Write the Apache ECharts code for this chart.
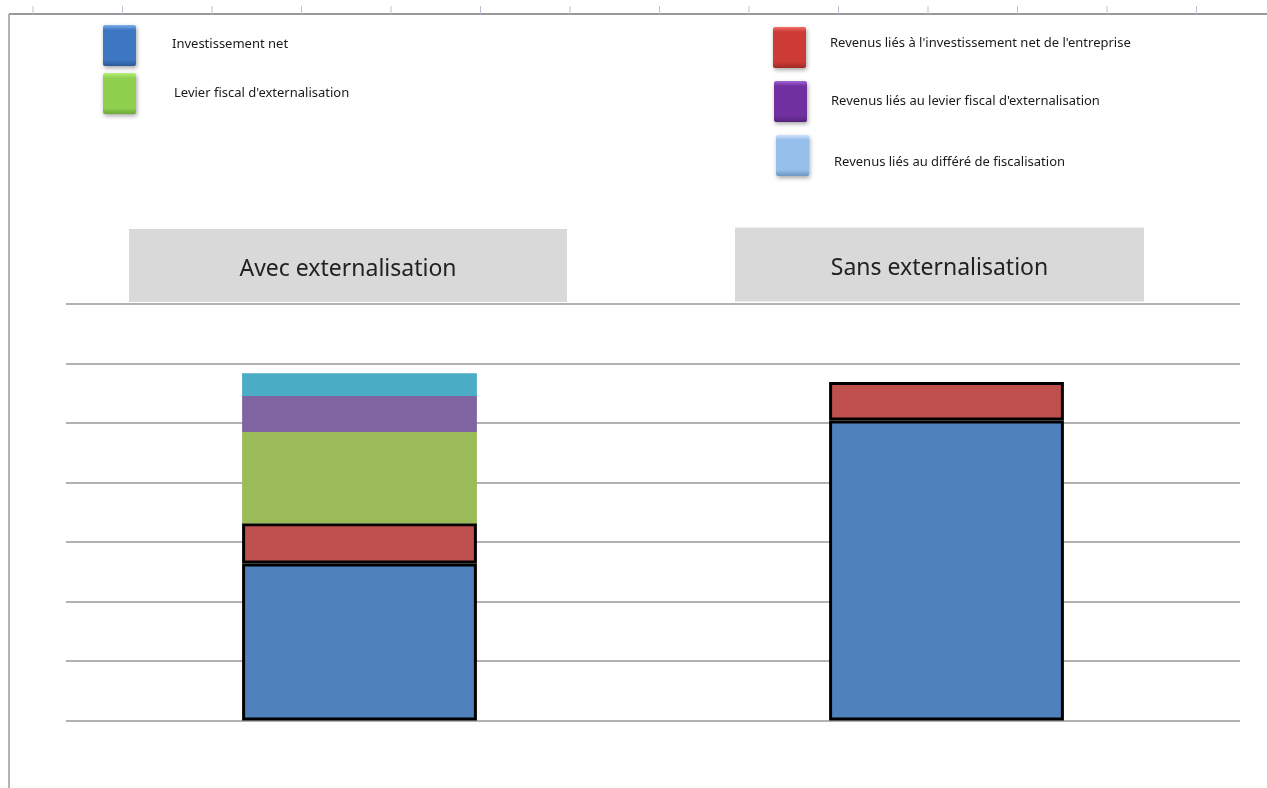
<!DOCTYPE html>
<html>
<head>
<meta charset="utf-8">
<script src="https://cdn.jsdelivr.net/npm/echarts@6/dist/echarts.min.js"></script>
<style>
html,body{margin:0;padding:0;background:#fff;}
#c{width:1267px;height:788px;}
</style>
</head>
<body>
<div id="c"></div>
<script>
const categories = ['Avec externalisation', 'Sans externalisation'];
const seriesNames = [
  'Investissement net',
  "Revenus liés à l'investissement net de l'entreprise",
  "Levier fiscal d'externalisation",
  "Revenus liés au levier fiscal d'externalisation",
  'Revenus liés au différé de fiscalisation'
];
const investissementNet = [2.64, 5.04];
const revenusInvestissement = [0.675, 0.65];
const levierFiscal = [1.535, '-'];
const revenusLevier = [0.605, '-'];
const revenusDiffere = [0.38, '-'];
const yTicks = [0, 1, 2, 3, 4, 5, 6, 7];

const barColors = ['#4f81bd', '#c0504d', '#9bbb59', '#8064a2', '#4bacc6'];
const legendGrad = [
  ['#7fb0ec', '#3d77c4', '#2b5a99'],
  ['#f0706b', '#cc3b36', '#9e2a26'],
  ['#b8ee7a', '#8fd14f', '#6ea83a'],
  ['#a066d6', '#7030a0', '#55237a'],
  ['#cfe4fb', '#96bfec', '#6f95c0']
];
function grad(c) {
  return new echarts.graphic.LinearGradient(0, 0, 0, 1, [
    {offset: 0, color: c[0]}, {offset: 0.12, color: c[1]},
    {offset: 0.85, color: c[1]}, {offset: 1, color: c[2]}
  ]);
}
const font = 'Noto Sans';
// shift: >0 moves text down, <0 moves it up (via an empty spacer line)
function legendItem(idx, left, top, padLeft, shift) {
  return {
    left: left, top: top, orient: 'vertical',
    itemWidth: 33, itemHeight: 41, padding: 0,
    icon: 'path://M2,0 L31,0 Q33,0 33,2 L33,39 Q33,41 31,41 L2,41 Q0,41 0,39 L0,2 Q0,0 2,0 Z',
    formatter: function (n) {
      if (shift > 0) return '{sp|}\n{t|' + n + '}';
      if (shift < 0) return '{t|' + n + '}\n{sp|}';
      return '{t|' + n + '}';
    },
    textStyle: {
      fontFamily: font, fontSize: 13, color: '#1a1a1a', padding: [0, 0, 0, padLeft],
      rich: {
        t: {fontFamily: font, fontSize: 13, color: '#1a1a1a', lineHeight: 18},
        sp: {lineHeight: Math.abs(shift) * 2, height: Math.abs(shift) * 2, fontSize: 1}
      }
    },
    data: [{name: seriesNames[idx], itemStyle: {color: grad(legendGrad[idx]), shadowBlur: 4, shadowColor: 'rgba(0,0,0,0.35)', shadowOffsetX: 1, shadowOffsetY: 2, borderWidth: 0}}]
  };
}

const ticks = [];
for (let k = 0; k < 14; k++) {
  const x = 33 + 89.5 * k;
  ticks.push({type: 'line', shape: {x1: x, y1: 6, x2: x, y2: 14}, style: {stroke: '#b9c3d3', lineWidth: 1}, silent: true});
}

const chart = echarts.init(document.getElementById('c'));
chart.setOption({
  backgroundColor: '#ffffff',
  animation: false,
  graphic: [
    {type: 'line', shape: {x1: 9, y1: 14, x2: 1267, y2: 14}, style: {stroke: '#9a9a9a', lineWidth: 2}, silent: true},
    {type: 'line', shape: {x1: 9, y1: 14, x2: 9, y2: 788}, style: {stroke: '#9a9a9a', lineWidth: 1.5}, silent: true}
  ].concat(ticks),
  legend: [
    legendItem(0, 103, 25, 31, -1),
    legendItem(2, 103, 73, 33, 0),
    legendItem(1, 773, 27, 19, -4),
    legendItem(3, 774, 81, 19, 0),
    legendItem(4, 776, 135, 20, 6.5)
  ],
  grid: {left: 66, right: 27, top: 304, bottom: 67.5},
  xAxis: {
    type: 'category', data: categories, position: 'top',
    axisLine: {show: false}, axisTick: {show: false},
    axisLabel: {
      margin: 6, interval: 0,
      formatter: function (v, i) {
        return i === 0 ? '{a|' + v + '}{s0|}' : '{b|' + v + '}{s1|}';
      },
      rich: {
        a: {width: 438, height: 65, lineHeight: 65, align: 'center', backgroundColor: '#d9d9d9', fontFamily: font, fontSize: 23, color: '#222', padding: [8, 0, 0, 0]},
        b: {width: 409, height: 67, lineHeight: 67, align: 'center', backgroundColor: '#d9d9d9', fontFamily: font, fontSize: 23, color: '#222', padding: [7, 0, 0, 0]},
        s0: {width: 23},
        s1: {width: 14}
      }
    }
  },
  yAxis: {
    type: 'value', min: yTicks[0], max: yTicks[yTicks.length - 1], interval: 1,
    axisLine: {show: false}, axisTick: {show: false}, axisLabel: {show: false},
    splitLine: {lineStyle: {color: '#999999', width: 1.6}}
  },
  series: [
    {name: seriesNames[0], type: 'bar', stack: 't', barWidth: '40%', data: investissementNet, itemStyle: {color: barColors[0], borderColor: '#000', borderWidth: 3}},
    {name: seriesNames[1], type: 'bar', stack: 't', data: revenusInvestissement, itemStyle: {color: barColors[1], borderColor: '#000', borderWidth: 3}},
    {name: seriesNames[2], type: 'bar', stack: 't', data: levierFiscal, itemStyle: {color: barColors[2]}},
    {name: seriesNames[3], type: 'bar', stack: 't', data: revenusLevier, itemStyle: {color: barColors[3]}},
    {name: seriesNames[4], type: 'bar', stack: 't', data: revenusDiffere, itemStyle: {color: barColors[4]}}
  ]
});
</script>
</body>
</html>
